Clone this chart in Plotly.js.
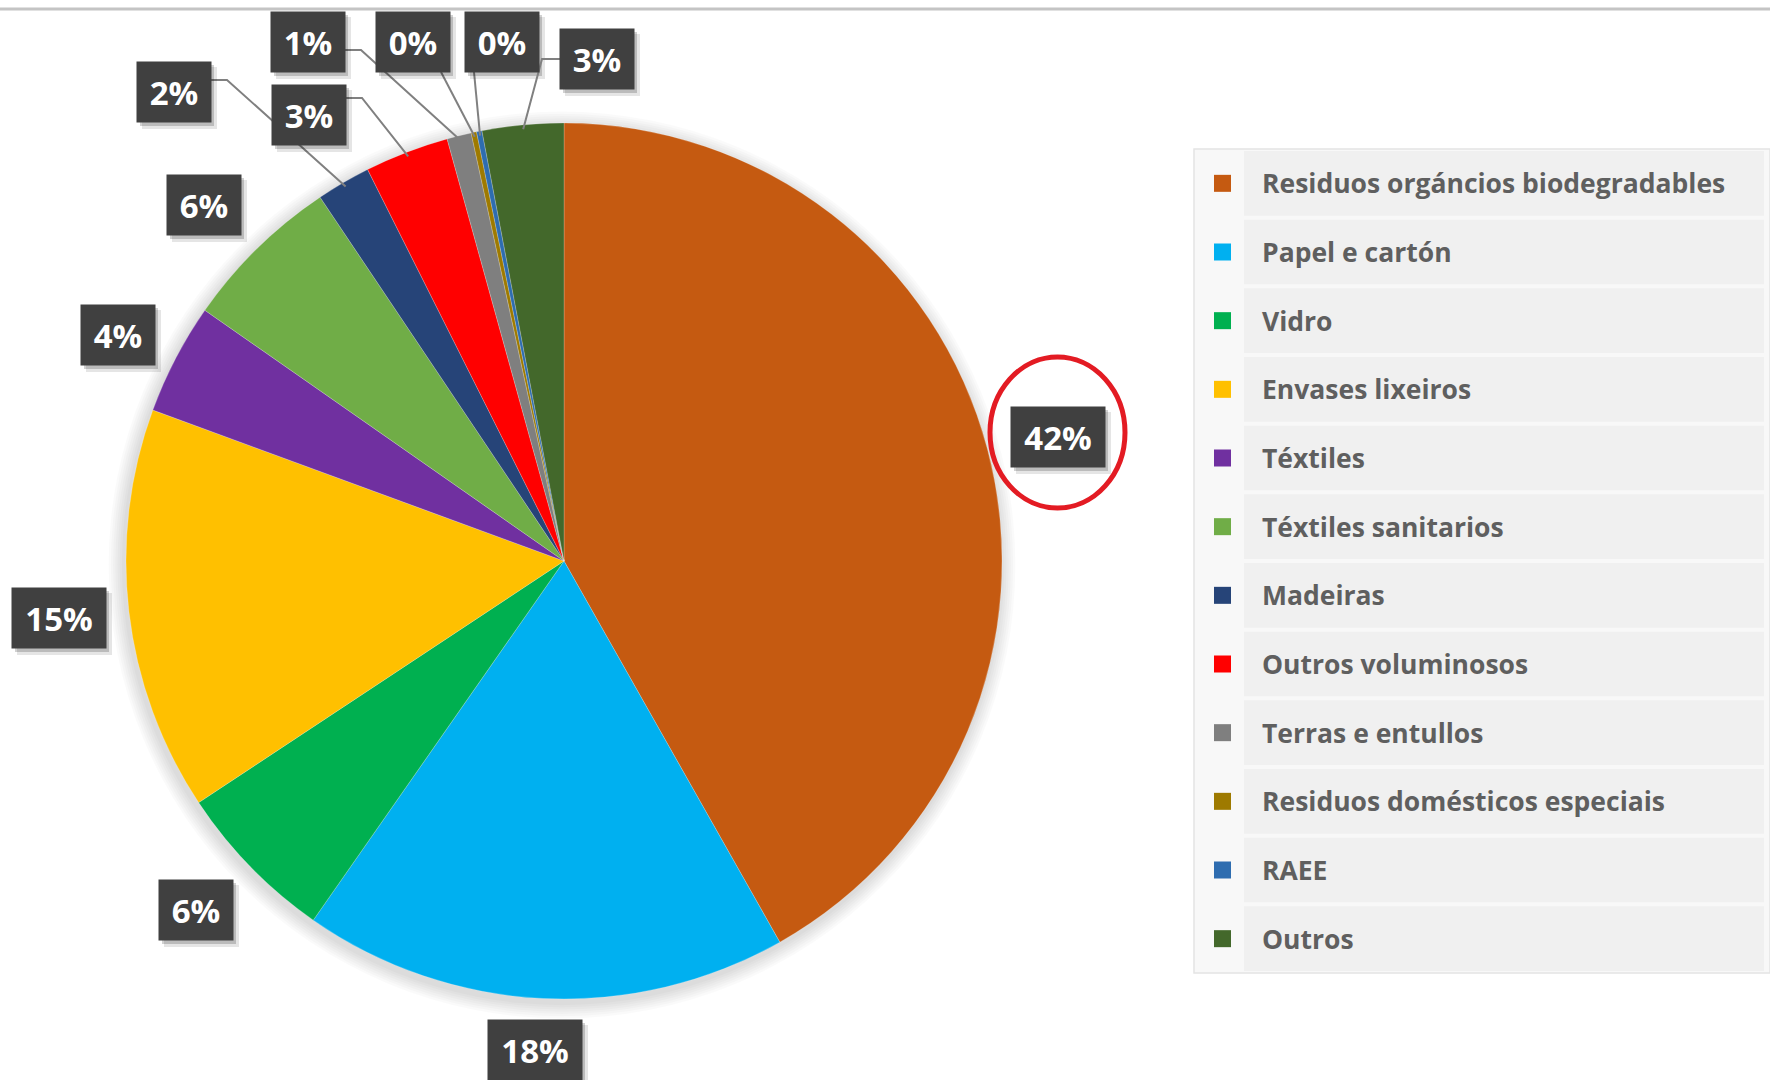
<!DOCTYPE html>
<html>
<head>
<meta charset="utf-8">
<script src="https://cdn.plot.ly/plotly-3.0.1.min.js"></script>
<style>
  html, body { margin: 0; padding: 0; background: #ffffff; }
  #chart { width: 1770px; height: 1080px; }
</style>
</head>
<body>
<div id="chart"></div>
<script>
// ---- Data ----
const categories = [
  "Residuos orgáncios biodegradables",
  "Papel e cartón",
  "Vidro",
  "Envases lixeiros",
  "Téxtiles",
  "Téxtiles sanitarios",
  "Madeiras",
  "Outros voluminosos",
  "Terras e entullos",
  "Residuos domésticos especiais",
  "RAEE",
  "Outros"
];
const shares = [41.8, 17.9, 6.0, 14.9, 4.1, 5.9, 2.0, 3.1, 0.9, 0.2, 0.2, 3.0];
const colors = [
  "#C55A11", "#00B0F0", "#00B050", "#FFC000", "#7030A0", "#70AD47",
  "#264478", "#FF0000", "#7F7F7F", "#9E7A00", "#2E6DB0", "#43682B"
];

// ---- Layout helpers (positions/styles, kept apart from data) ----
const W = 1770, H = 1080;
const CX = 564, CY = 561, R = 438;
const px = x => x / W;
const py = y => 1 - y / H;

// data-label box centres (pixels) and leader style
const labelPos = [
  [1058, 437], [535, 1050], [196, 910], [59, 618], [118, 335], [204, 205],
  [174, 92], [309, 115], [308, 42], [413, 42], [502, 42], [597, 59]
];
const leaders = [
  null, null, null, null, null, null,
  {side: "right", dy: -12}, {side: "right", dy: -17}, {side: "right", dy: 8},
  {side: "bottom", dx: 28}, {side: "bottom", dx: -28}, {side: "left", dy: 0}
];

const total = shares.reduce((a, b) => a + b, 0);
const pctText = shares.map(v => Math.round(v / total * 100) + "%");

const midAngles = [];
{
  let acc = 0;
  shares.forEach(v => {
    const a0 = acc / total * 360;
    acc += v;
    const a1 = acc / total * 360;
    midAngles.push((a0 + a1) / 2);
  });
}

const shapes = [];
const annotations = [];

// top grey rule
shapes.push({type: "line", xref: "paper", yref: "paper", x0: 0, x1: 1, y0: py(9), y1: py(9),
  line: {color: "#C4C4C4", width: 3}, layer: "below"});

// soft shadow behind the pie
for (let k = 7; k >= 1; k--) {
  const rr = R + k * 2.2;
  const cx = CX - 2, cy = CY + 4;
  shapes.push({type: "circle", xref: "paper", yref: "paper",
    x0: px(cx - rr), x1: px(cx + rr), y0: py(cy + rr), y1: py(cy - rr),
    fillcolor: "rgba(0,0,0,0.018)", line: {width: 0}, layer: "below"});
}

// data labels
pctText.forEach((t, i) => {
  const [x, y] = labelPos[i];
  const w = t.length >= 3 ? 94 : 74;
  const h = 60;
  const L = leaders[i];
  if (L) {
    const ang = midAngles[i] * Math.PI / 180;
    const ex = CX + R * 0.99 * Math.sin(ang);
    const ey = CY - R * 0.99 * Math.cos(ang);
    let path;
    if (L.side === "right") {
      const sx = x + w / 2, sy = y + L.dy;
      path = `M ${px(sx)} ${py(sy)} L ${px(sx + 16)} ${py(sy)} L ${px(ex)} ${py(ey)}`;
    } else if (L.side === "left") {
      const sx = x - w / 2, sy = y + L.dy;
      path = `M ${px(sx)} ${py(sy)} L ${px(sx - 18)} ${py(sy)} L ${px(ex)} ${py(ey)}`;
    } else {
      const sx = x + L.dx, sy = y + h / 2;
      path = `M ${px(sx)} ${py(sy)} L ${px(ex)} ${py(ey)}`;
    }
    shapes.push({type: "path", xref: "paper", yref: "paper", path: path,
      line: {color: "#808080", width: 2}, layer: "above"});
  }
  shapes.push({type: "rect", xref: "paper", yref: "paper",
    x0: px(x - w / 2 + 5), x1: px(x + w / 2 + 6), y0: py(y + h / 2 + 7), y1: py(y - h / 2 + 5),
    fillcolor: "rgba(0,0,0,0.10)", line: {width: 0}, layer: "above"});
  shapes.push({type: "rect", xref: "paper", yref: "paper",
    x0: px(x - w / 2 + 3), x1: px(x + w / 2 + 3), y0: py(y + h / 2 + 4), y1: py(y - h / 2 + 3),
    fillcolor: "rgba(0,0,0,0.18)", line: {width: 0}, layer: "above"});
  annotations.push({
    xref: "paper", yref: "paper", x: px(x), y: py(y), xanchor: "center", yanchor: "middle",
    text: t, showarrow: false, width: w, height: h, bgcolor: "#404040",
    font: {family: "Open Sans, sans-serif", size: 33, color: "#ffffff", weight: 700},
    align: "center", valign: "middle", borderpad: 0
  });
});

// red highlight ellipse round the largest label
shapes.push({type: "circle", xref: "paper", yref: "paper",
  x0: px(990), x1: px(1125), y0: py(508), y1: py(357),
  line: {color: "#E31B23", width: 5}, fillcolor: "rgba(0,0,0,0)", layer: "above"});

// custom legend panel
const LX0 = 1194, LX1 = 1770, LY0 = 149, LY1 = 973;
shapes.push({type: "rect", xref: "paper", yref: "paper",
  x0: px(LX0), x1: px(LX1), y0: py(LY1), y1: py(LY0),
  fillcolor: "#F8F8F8", line: {color: "#E4E4E4", width: 1.5}, layer: "below"});
const rowH = (LY1 - LY0) / categories.length;
categories.forEach((c, i) => {
  const yc = LY0 + rowH * (i + 0.5);
  shapes.push({type: "rect", xref: "paper", yref: "paper",
    x0: px(1244), x1: px(1764), y0: py(yc + rowH / 2 - 2), y1: py(yc - rowH / 2 + 2),
    fillcolor: "#F0F0F0", line: {width: 0}, layer: "below"});
  shapes.push({type: "rect", xref: "paper", yref: "paper",
    x0: px(1214), x1: px(1231), y0: py(yc + 8.5), y1: py(yc - 8.5),
    fillcolor: colors[i], line: {width: 0}, layer: "below"});
  annotations.push({
    xref: "paper", yref: "paper", x: px(1260), y: py(yc), xanchor: "left", yanchor: "middle",
    text: c, showarrow: false,
    font: {family: "Open Sans, sans-serif", size: 26.5, color: "#5F5F5F", weight: 700}
  });
});

const trace = {
  type: "pie",
  labels: categories,
  values: shares,
  sort: false,
  direction: "clockwise",
  rotation: 0,
  textinfo: "none",
  hoverinfo: "label+percent",
  marker: {colors: colors, line: {color: "rgba(255,255,255,0.35)", width: 0.6}},
  domain: {x: [px(CX - R), px(CX + R)], y: [py(CY + R), py(CY - R)]},
  showlegend: false
};

const layout = {
  width: W, height: H,
  margin: {l: 0, r: 0, t: 0, b: 0},
  paper_bgcolor: "#ffffff",
  plot_bgcolor: "#ffffff",
  showlegend: false,
  shapes: shapes,
  annotations: annotations
};

Plotly.newPlot("chart", [trace], layout, {displayModeBar: false, staticPlot: true});
</script>
</body>
</html>
